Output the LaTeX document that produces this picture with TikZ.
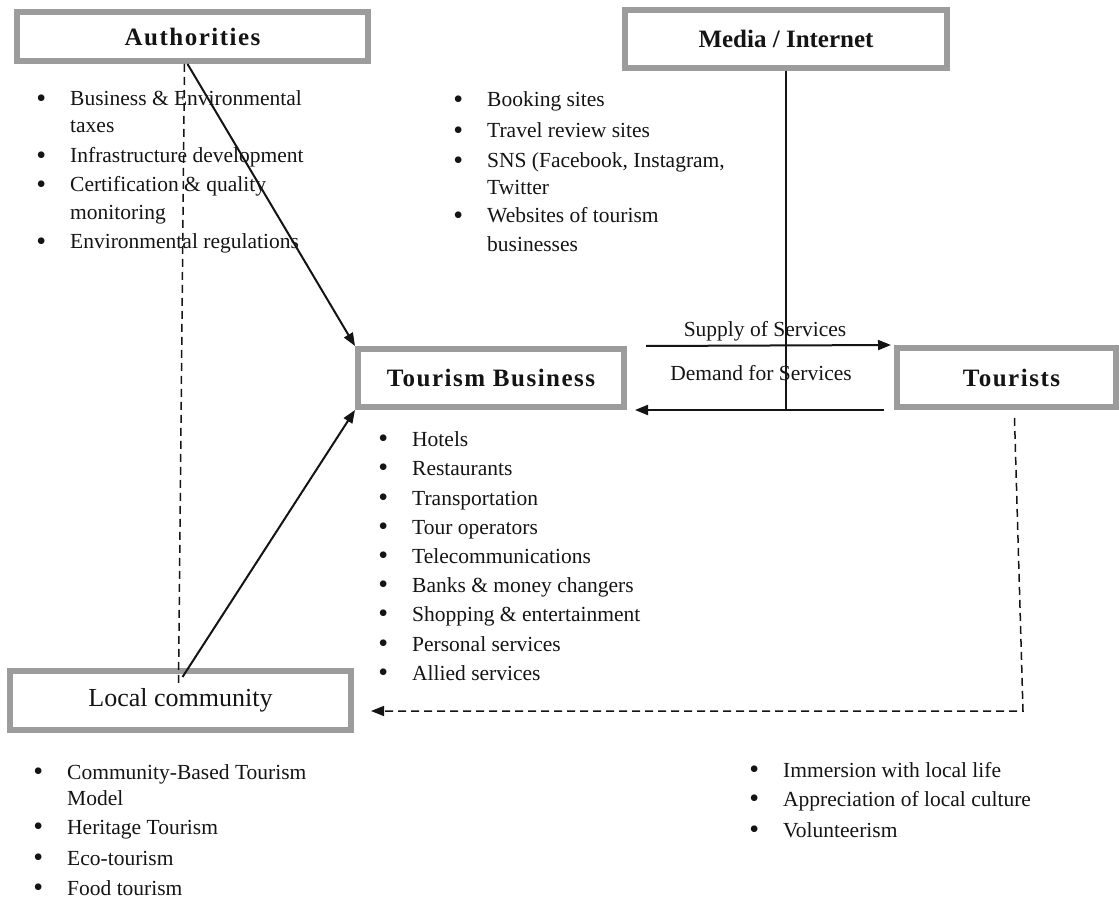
\documentclass[tikz,border=0pt]{standalone}
\usepackage{fontspec}
\setmainfont{Liberation Serif}
\usetikzlibrary{arrows.meta,calc}
\definecolor{boxgray}{HTML}{9C9C9C}
\definecolor{ink}{HTML}{141414}
\newcommand\bigbul{\raisebox{-1.8pt}{\fontsize{28}{28}\selectfont\textbullet}}
\newcommand\lstbul[4]{\node[item] (#1) at (#2,#3) {\makebox[0pt][r]{\bigbul\hspace{24pt}}#4};}
\newcommand\lstcont[4]{\node[item] (#1) at (#2,#3) {#4};}
\begin{document}
\begin{tikzpicture}[x=1pt,y=-1pt,
  box/.style={draw=boxgray, line width=6pt, fill=white, inner sep=0pt, text=ink},
  title/.style={font=\fontsize{25}{30}\selectfont\bfseries},
  wide/.style={font=\fontsize{25}{30}\selectfont\bfseries\addfontfeatures{LetterSpace=6}},
  plaintitle/.style={font=\fontsize{26}{30}\selectfont},
  item/.style={anchor=base west, inner sep=0pt, text=ink, font=\fontsize{21.5}{26}\selectfont},
  lbl/.style={anchor=base, inner sep=0pt, text=ink, font=\fontsize{21.5}{26}\selectfont},
  arr/.style={draw=ink, line width=2pt, -{Triangle[length=13pt,width=10pt]}},
  dashline/.style={draw=ink, line width=1.5pt, dash pattern=on 8pt off 5pt},
  thinline/.style={draw=ink, line width=1.5pt}]
\useasboundingbox (0,0) rectangle (1119,901);

% boxes
\node[box, wide, minimum width=351pt, minimum height=49pt] (auth) at (192.5,36.5) {Authorities};
\node[box, title, minimum width=322pt, minimum height=58pt] (media) at (786,39) {Media / Internet};
\node[box, wide, minimum width=266pt, minimum height=58pt] (tb) at (491,378) {Tourism Business};
\node[box, wide, minimum width=219pt, minimum height=59pt] (tour) at (1006.5,377.5) {\hspace*{10pt}Tourists};
\node[box, plaintitle, minimum width=341pt, minimum height=59pt] (local) at (180.5,700.5) {Local community};

% lists: Authorities
\lstbul{a1}{70}{106}{Business \& Environmental}
\lstcont{a2}{70}{133}{taxes}
\lstbul{a3}{70}{163}{Infrastructure development}
\lstbul{a4}{70}{192}{Certification \& quality}
\lstcont{a5}{70}{220}{monitoring}
\lstbul{a6}{70}{249}{Environmental regulations}

% Media
\lstbul{m1}{487}{107}{Booking sites}
\lstbul{m2}{487}{138}{Travel review sites}
\lstbul{m3}{487}{168}{SNS (Facebook, Instagram,}
\lstcont{m4}{487}{195}{Twitter}
\lstbul{m5}{487}{223}{Websites of tourism}
\lstcont{m6}{487}{252}{businesses}

% Tourism business
\lstbul{t1}{412}{446}{Hotels}
\lstbul{t2}{412}{475}{Restaurants}
\lstbul{t3}{412}{505}{Transportation}
\lstbul{t4}{412}{534}{Tour operators}
\lstbul{t5}{412}{563}{Telecommunications}
\lstbul{t6}{412}{592}{Banks \& money changers}
\lstbul{t7}{412}{621}{Shopping \& entertainment}
\lstbul{t8}{412}{651}{Personal services}
\lstbul{t9}{412}{680}{Allied services}

% Local community
\lstbul{l1}{67}{779}{Community-Based Tourism}
\lstcont{l2}{67}{805}{Model}
\lstbul{l3}{67}{834}{Heritage Tourism}
\lstbul{l4}{67}{865}{Eco-tourism}
\lstbul{l5}{67}{895}{Food tourism}

% Tourists
\lstbul{u1}{783}{777}{Immersion with local life}
\lstbul{u2}{783}{806}{Appreciation of local culture}
\lstbul{u3}{783}{837}{Volunteerism}

% labels
\node[lbl] (supply) at (765,337) {Supply of Services};
\node[lbl] (demand) at (761,380) {Demand for Services};

% connectors
\draw[dashline] ([xshift=-8pt]auth.south) -- ([xshift=-2pt,yshift=-16pt]local.north);
\draw[arr] ([xshift=-5pt]auth.south) -- (tb.north west);
\draw[arr] ([xshift=2pt,yshift=-9pt]local.north) -- (tb.south west);
\draw[arr, shorten >=3pt] ([xshift=19pt]tb.north east) -- (tour.north west);
\draw[arr] ([xshift=-10pt]tour.south west) -- ([xshift=8pt]tb.south east);
\draw[thinline] (media.south) -- (media.south |- tour.south west);
\coordinate (tcorner) at (1023,711);
\draw[dashline, -{Triangle[length=13pt,width=10pt]}, shorten >=17pt]
  ([xshift=8pt,yshift=-8pt]tour.south) -- (tcorner) -- (tcorner -| local.east);
\end{tikzpicture}
\end{document}
